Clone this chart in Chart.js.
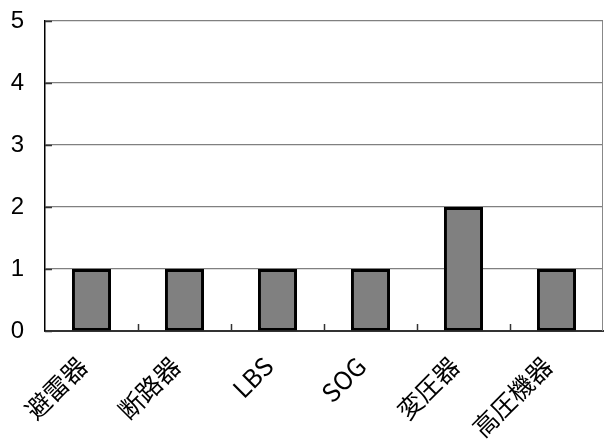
<!DOCTYPE html>
<html>
<head>
<meta charset="utf-8">
<script src="https://cdn.jsdelivr.net/npm/chart.js@4/dist/chart.umd.min.js"></script>
<style>
  html, body { margin: 0; padding: 0; background: #fff; }
  #wrap { width: 604px; height: 446px; }
</style>
</head>
<body>
<div id="wrap"><canvas id="c" width="604" height="446"></canvas></div>
<script>
const categories = ['避雷器', '断路器', 'LBS', 'SOG', '変圧器', '高圧機器'];
const counts = [1, 1, 1, 1, 2, 1];
const yTicks = [0, 1, 2, 3, 4, 5];

// 目盛り線（内向き）と右枠を描く
const innerTicks = {
  id: 'innerTicks',
  afterDatasetsDraw(chart) {
    const { ctx, chartArea, scales } = chart;
    ctx.save();
    ctx.strokeStyle = '#333';
    ctx.lineWidth = 1.5;
    // x: カテゴリ境界
    for (let i = 1; i < categories.length; i++) {
      const x = Math.round(scales.x.getPixelForValue(i - 0.5)) + 0.5;
      ctx.beginPath();
      ctx.moveTo(x, chartArea.bottom);
      ctx.lineTo(x, chartArea.bottom - 7);
      ctx.stroke();
    }
    // y: 内向き
    yTicks.forEach(v => {
      const y = Math.round(scales.y.getPixelForValue(v)) + 0.5;
      ctx.beginPath();
      ctx.moveTo(chartArea.left, y);
      ctx.lineTo(chartArea.left + 7, y);
      ctx.stroke();
    });
    ctx.strokeStyle = '#888';
    ctx.lineWidth = 1;
    ctx.beginPath();
    ctx.moveTo(chartArea.right - 0.5, chartArea.top);
    ctx.lineTo(chartArea.right - 0.5, chartArea.bottom);
    ctx.stroke();
    ctx.restore();
  }
};

new Chart(document.getElementById('c'), {
  type: 'bar',
  data: {
    labels: categories,
    datasets: [{
      data: counts,
      backgroundColor: '#808080',
      borderColor: '#000',
      borderWidth: 3,
      borderSkipped: false,
      barPercentage: 0.42,
      categoryPercentage: 1.0
    }]
  },
  options: {
    responsive: false,
    animation: false,
    layout: { padding: { top: 21, right: 1, left: 0, bottom: 0 } },
    plugins: { legend: { display: false }, tooltip: { enabled: false } },
    scales: {
      x: {
        grid: { display: false },
        border: { display: true, color: '#333', width: 2 },
        ticks: {
          color: '#000',
          font: { family: '"Noto Sans CJK JP", sans-serif', size: 25 },
          minRotation: 45,
          maxRotation: 45,
          padding: 12,
          labelOffset: -9
        },
        afterFit(scale) {
          scale.height = 115;
          scale.paddingLeft = 0;
          scale.paddingRight = 0;
        }
      },
      y: {
        min: 0,
        max: 5,
        afterBuildTicks(scale) { scale.ticks = yTicks.map(v => ({ value: v })); },
        grid: { color: '#808080', lineWidth: 1.2, drawTicks: false },
        border: { display: true, color: '#000', width: 1.5 },
        ticks: {
          color: '#000',
          font: { family: '"Liberation Sans", Arial, sans-serif', size: 24 },
          padding: 21
        },
        afterFit(scale) {
          scale.width = 45;
          scale.paddingTop = 0;
          scale.paddingBottom = 0;
        }
      }
    }
  },
  plugins: [innerTicks]
});
</script>
</body>
</html>
